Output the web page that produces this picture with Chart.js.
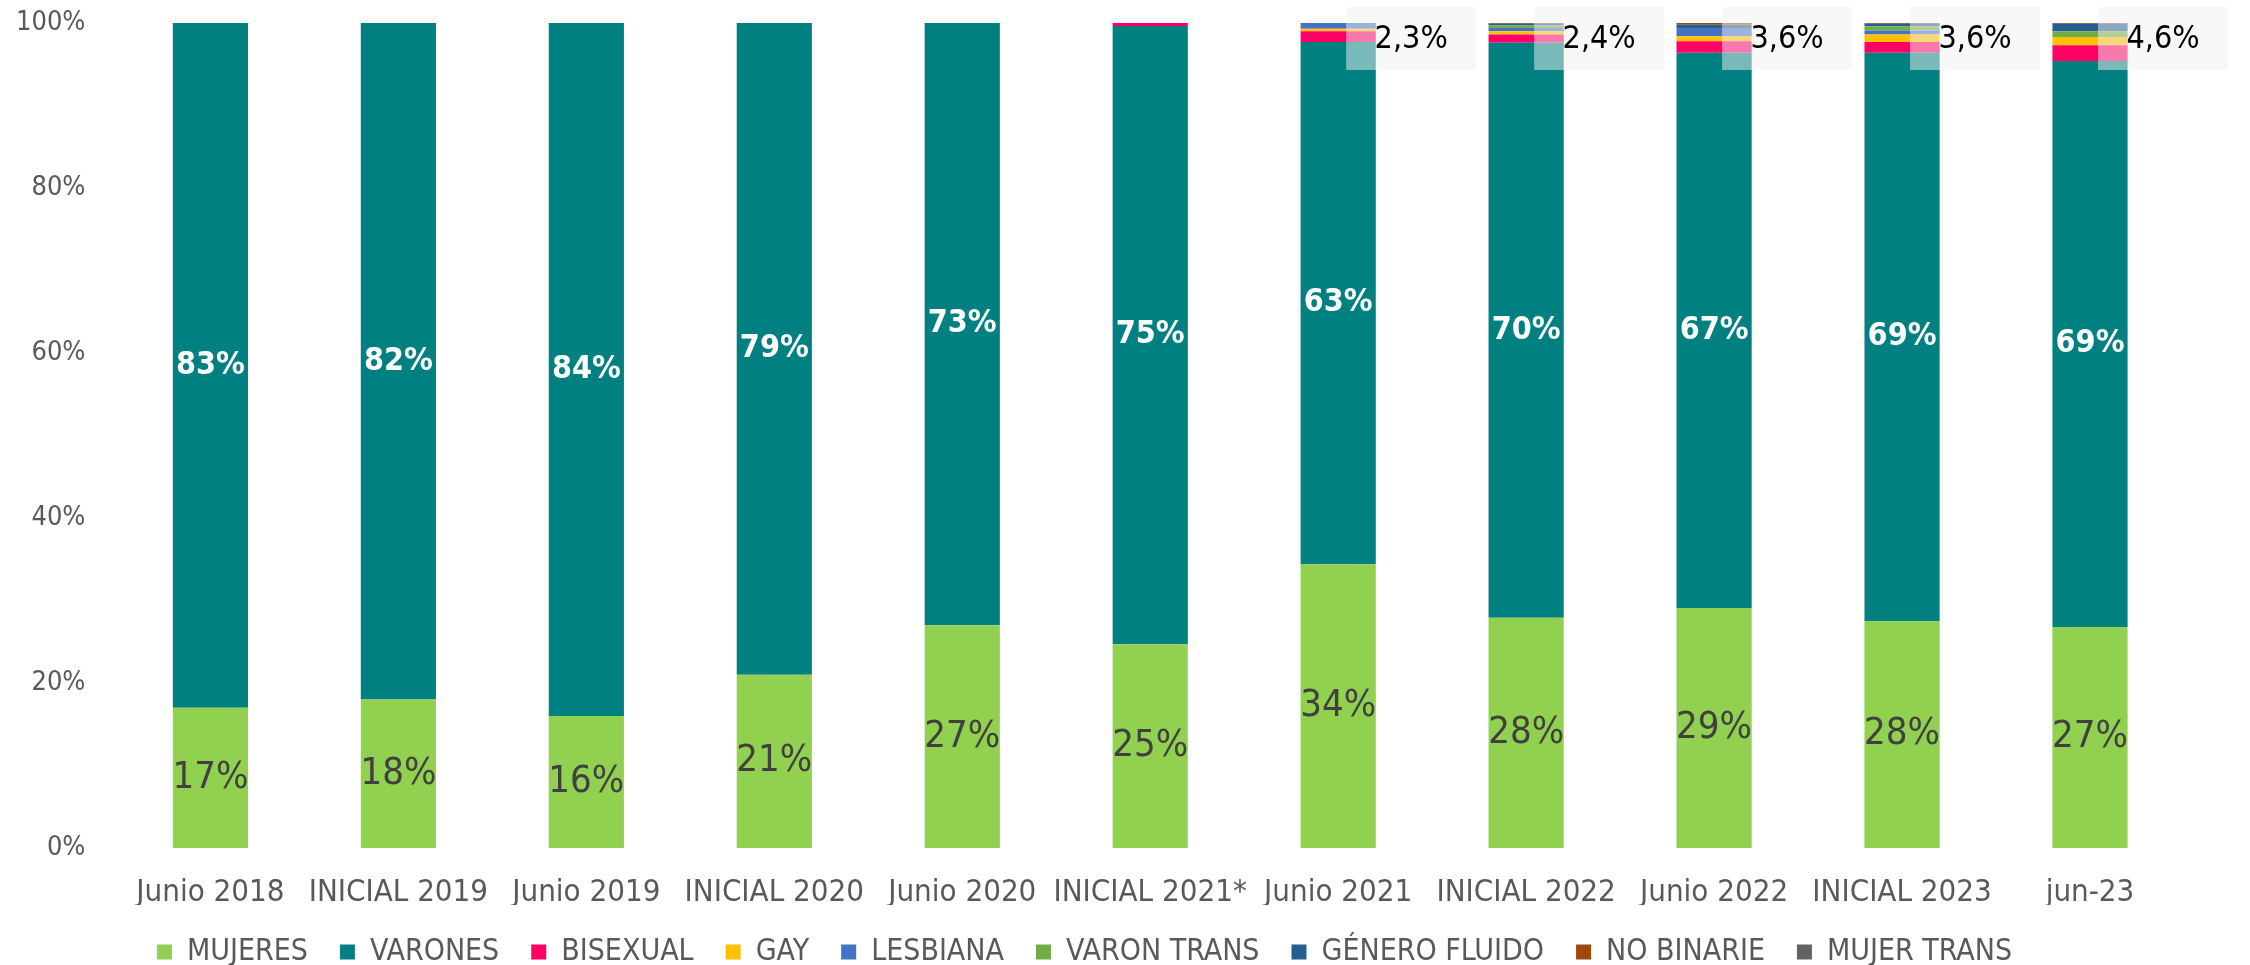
<!DOCTYPE html>
<html>
<head>
<meta charset="utf-8">
<script src="https://cdn.jsdelivr.net/npm/chart.js@4/dist/chart.umd.min.js"></script>
<style>
  html, body { margin: 0; padding: 0; background: #fff; }
  #wrap { width: 2250px; height: 965px; }
</style>
</head>
<body>
<div id="wrap"><canvas id="grafico"></canvas></div>
<script>
var categorias = ['Junio 2018', 'INICIAL 2019', 'Junio 2019', 'INICIAL 2020', 'Junio 2020',
	'INICIAL 2021*', 'Junio 2021', 'INICIAL 2022', 'Junio 2022', 'INICIAL 2023', 'jun-23'];

var mujeres      = [17, 18, 16, 21, 27, 24.7, 34.4, 27.9, 29.1, 27.5, 26.8];
var varones      = [83, 82, 84, 79, 73, 74.95, 63.3, 69.7, 67.3, 68.9, 68.6];
var bisexual     = [0, 0, 0, 0, 0, 0.35, 1.3, 1.0, 1.4, 1.3, 1.9];
var gay          = [0, 0, 0, 0, 0, 0, 0.3, 0.4, 0.6, 0.9, 1.0];
var lesbiana     = [0, 0, 0, 0, 0, 0, 0.7, 0.4, 1.0, 0.5, 0];
var varonTrans   = [0, 0, 0, 0, 0, 0, 0, 0.3, 0, 0.5, 0.7];
var generoFluido = [0, 0, 0, 0, 0, 0, 0, 0.2, 0.4, 0.3, 0.9];
var noBinarie    = [0, 0, 0, 0, 0, 0, 0, 0.1, 0.2, 0.1, 0.1];
var mujerTrans   = [0, 0, 0, 0, 0, 0, 0, 0, 0, 0, 0];

// etiquetas de los recuadros (suma de diversidades)
var totalesDiversidad = ['', '', '', '', '', '', '2,3%', '2,4%', '3,6%', '3,6%', '4,6%'];

var yTicks = [0, 20, 40, 60, 80, 100];

var fuente = "'DejaVu Sans Condensed', 'DejaVu Sans', sans-serif";

function serie(nombre, datos, color) {
	return { label: nombre, data: datos, backgroundColor: color, borderWidth: 0,
		barPercentage: 0.4, categoryPercentage: 1.0 };
}

// la leyenda ocupa menos alto que lo que calcula Chart.js
var alturaLeyenda = {
	id: 'alturaLeyenda',
	beforeInit: function(chart) {
		var fitOriginal = chart.legend.fit;
		chart.legend.fit = function() {
			fitOriginal.call(this);
			this.height = 60;
		};
	}
};

// etiquetas dentro de las barras y recuadros de totales
var etiquetas = {
	id: 'etiquetas',
	afterDatasetsDraw: function(chart) {
		var ctx = chart.ctx;
		ctx.save();
		ctx.textAlign = 'center';
		ctx.textBaseline = 'middle';

		var meta0 = chart.getDatasetMeta(0);
		ctx.font = '38px ' + fuente;
		ctx.fillStyle = '#404040';
		meta0.data.forEach(function(bar, i) {
			var c = bar.getCenterPoint();
			ctx.fillText(Math.round(mujeres[i]) + '%', c.x, c.y);
		});

		var meta1 = chart.getDatasetMeta(1);
		ctx.font = 'bold 32px ' + fuente;
		ctx.fillStyle = '#ffffff';
		meta1.data.forEach(function(bar, i) {
			var c = bar.getCenterPoint();
			ctx.fillText(Math.round(varones[i]) + '%', c.x, c.y);
		});

		var y100 = chart.scales.y.getPixelForValue(100);
		ctx.font = '32px ' + fuente;
		meta0.data.forEach(function(bar, i) {
			if (!totalesDiversidad[i]) return;
			var bx = bar.x + 8;
			ctx.fillStyle = 'rgba(242,242,242,0.5)';
			ctx.fillRect(bx, y100 - 16, 130, 63);
			ctx.fillStyle = '#000000';
			ctx.fillText(totalesDiversidad[i], bx + 65, y100 + 17);
		});
		ctx.restore();
	}
};

var ctx = document.getElementById('grafico');
var grafico = new Chart(ctx, {
	type: 'bar',
	data: {
		labels: categorias,
		datasets: [
			serie('MUJERES', mujeres, '#92D050'),
			serie('VARONES', varones, '#008080'),
			serie('BISEXUAL', bisexual, '#FF0066'),
			serie('GAY', gay, '#FFC000'),
			serie('LESBIANA', lesbiana, '#4472C4'),
			serie('VARON TRANS', varonTrans, '#70AD47'),
			serie('GÉNERO FLUIDO', generoFluido, '#255E91'),
			serie('NO BINARIE', noBinarie, '#9E480E'),
			serie('MUJER TRANS', mujerTrans, '#636363')
		]
	},
	options: {
		responsive: true,
		maintainAspectRatio: false,
		animation: false,
		layout: { padding: { left: -15, right: 66, top: 23, bottom: 0 } },
		plugins: {
			legend: {
				position: 'bottom',
				labels: {
					boxWidth: 15, boxHeight: 15, padding: 32,
					color: '#595959',
					font: { family: fuente, size: 30 }
				}
			},
			tooltip: { enabled: false }
		},
		scales: {
			x: {
				stacked: true,
				grid: { display: false, drawTicks: false },
				border: { display: false },
				afterFit: function(s) { s.paddingLeft = 0; s.paddingRight = 0; s.height = 57; },
				ticks: { color: '#595959', padding: 26, maxRotation: 0, autoSkip: false,
					font: { family: fuente, size: 31 } }
			},
			y: {
				stacked: true,
				min: 0, max: 100,
				grid: { display: false, drawTicks: false },
				border: { display: false },
				afterFit: function(s) { s.paddingTop = 0; s.paddingBottom = 0; },
				afterBuildTicks: function(axis) {
					axis.ticks = yTicks.map(function(v) { return { value: v }; });
				},
				ticks: { color: '#595959', padding: 31,
					font: { family: fuente, size: 27 },
					callback: function(v) { return v + '%'; } }
			}
		}
	},
	plugins: [alturaLeyenda, etiquetas]
});
</script>
</body>
</html>
